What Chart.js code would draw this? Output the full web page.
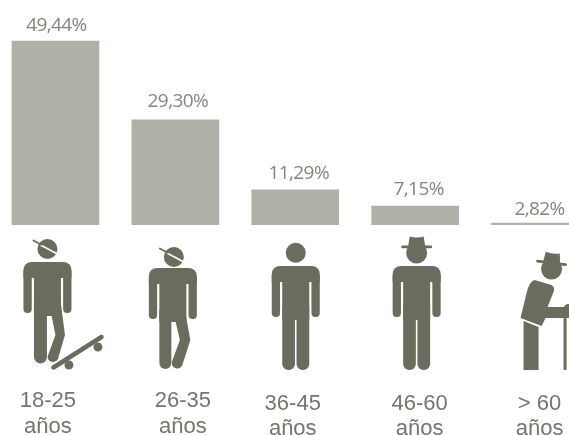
<!DOCTYPE html>
<html>
<head>
<meta charset="utf-8">
<title>Edad</title>
<script src="https://cdn.jsdelivr.net/npm/chart.js@4"></script>
<style>
  html, body { margin: 0; padding: 0; background: #fff; overflow: hidden; width: 569px; height: 435px; }
  #wrap { position: absolute; left: -5px; top: 0; width: 600px; height: 435px; }
</style>
</head>
<body>
<div id="wrap"><canvas id="bar-chart" width="600" height="435"></canvas></div>
<script>
// data
const ageRanges = ['18-25', '26-35', '36-45', '46-60', '> 60'];
const shares = [49.44, 29.30, 11.29, 7.15, 2.82];
const shareLabels = ['49,44%', '29,30%', '11,29%', '7,15%', '2,82%'];
const yearsWord = 'años';

const barColor = '#b0b0a9';
const iconColor = '#6b6b5e';
const shareColor = '#85857c';
const ageColor = '#75756c';

// small hand placement, the original labels do not sit on the bar centres
const shareShiftX = [1, 2.5, 3.5, 3.5, 4.5];
const shareBaseline = [31, 107, 179, 195, 215];
const ageShiftX = [-7.5, 7.5, -2.5, 4.5, 4.5];
const ageBaseline = [[407, 433], [407, 433], [410, 435], [410, 435], [410, 435]];

function standingBody(ctx, cx, top) {
    // shoulders and torso
    ctx.beginPath();
    ctx.roundRect(cx - 24, top, 48, 16, [8, 8, 0, 0]);
    ctx.fill();
    ctx.fillRect(cx - 13.5, top, 27, 54);
    // arms
    ctx.beginPath();
    ctx.roundRect(cx - 24, top + 6, 8.3, 45, 4);
    ctx.roundRect(cx + 15.7, top + 6, 8.3, 45, 4);
    ctx.fill();
}

function straightLegs(ctx, cx, top, bottom) {
    ctx.beginPath();
    ctx.roundRect(cx - 13.5, top + 40, 12.7, bottom - top - 40, [0, 0, 6, 6]);
    ctx.roundRect(cx + 0.8, top + 40, 12.7, bottom - top - 40, [0, 0, 6, 6]);
    ctx.fill();
}

function capHead(ctx, hx, hy) {
    ctx.beginPath();
    ctx.arc(hx, hy, 10, 0, Math.PI * 2);
    ctx.fill();
    ctx.strokeStyle = '#fff';
    ctx.lineWidth = 1.6;
    ctx.beginPath();
    ctx.moveTo(hx - 7, hy - 4);
    ctx.lineTo(hx + 11, hy + 5.5);
    ctx.stroke();
    ctx.strokeStyle = iconColor;
    ctx.lineCap = 'round';
    ctx.lineWidth = 1.8;
    ctx.beginPath();
    ctx.moveTo(hx - 14, hy - 8.5);
    ctx.lineTo(hx - 6, hy - 4.3);
    ctx.stroke();
}

function hatHead(ctx, hx, hy, tilt) {
    ctx.beginPath();
    ctx.arc(hx, hy, 10.5, 0, Math.PI * 2);
    ctx.fill();
    ctx.save();
    ctx.translate(hx, hy - 6);
    ctx.rotate(tilt);
    ctx.fillStyle = iconColor;
    ctx.beginPath();
    ctx.roundRect(-15.5, -1.5, 31, 2.8, 1.4);
    ctx.fill();
    ctx.beginPath();
    ctx.moveTo(-8.5, -1);
    ctx.lineTo(-7, -10.5);
    ctx.quadraticCurveTo(0, -8.5, 7, -10.5);
    ctx.lineTo(8.5, -1);
    ctx.closePath();
    ctx.fill();
    ctx.restore();
}

const iconDrawers = [
    function (ctx, cx) { // skater
        capHead(ctx, cx, 249);
        standingBody(ctx, cx, 262);
        ctx.fill(new Path2D('M' + (cx - 13.5) + ' 300 h13 v57 a6.2 6.2 0 0 1 -13 0 z'));
        ctx.fill(new Path2D('M' + (cx + 1) + ' 300 h12 L' + (cx + 17.5) + ' 335 L' + (cx + 10.5) + ' 359 a5.4 5.4 0 0 1 -10.2 -3 L' + (cx + 8) + ' 335 z'));
        // board
        ctx.lineCap = 'round';
        ctx.lineWidth = 7.5;
        ctx.strokeStyle = '#fff';
        ctx.beginPath();
        ctx.moveTo(cx + 6, 367.5);
        ctx.lineTo(cx + 54, 337);
        ctx.stroke();
        ctx.lineWidth = 4.5;
        ctx.strokeStyle = iconColor;
        ctx.stroke();
        ctx.beginPath();
        ctx.arc(cx + 21.5, 365, 4.5, 0, Math.PI * 2);
        ctx.arc(cx + 50.5, 347, 4.5, 0, Math.PI * 2);
        ctx.fill();
    },
    function (ctx, cx) { // cap, one leg bent
        capHead(ctx, cx - 1, 257);
        standingBody(ctx, cx - 2, 268);
        ctx.fill(new Path2D('M' + (cx - 15.5) + ' 310 h12 v53 a6 6 0 0 1 -12 0 z'));
        ctx.fill(new Path2D('M' + (cx - 2) + ' 310 h12 L' + (cx + 15.5) + ' 340 L' + (cx + 7.5) + ' 365 a5.5 5.5 0 0 1 -10.5 -3 L' + (cx + 5) + ' 340 z'));
    },
    function (ctx, cx) { // plain
        ctx.beginPath();
        ctx.arc(cx, 252.7, 10, 0, Math.PI * 2);
        ctx.fill();
        standingBody(ctx, cx, 266);
        straightLegs(ctx, cx, 266, 370);
    },
    function (ctx, cx) { // hat
        hatHead(ctx, cx, 253, 0);
        standingBody(ctx, cx, 266);
        straightLegs(ctx, cx, 266, 370);
    },
    function (ctx, cx) { // old man with a stick
        hatHead(ctx, cx + 12, 269, 0.12);
        ctx.fill(new Path2D('M' + (cx - 5) + ' 280 L' + (cx + 12) + ' 285 Q' + (cx + 16) + ' 288 ' + (cx + 14) + ' 292 L' + (cx + 8) + ' 307 H' + (cx + 30) + ' V318 H' + (cx + 6) + ' L' + (cx + 2) + ' 326 L' + (cx - 19) + ' 318 L' + (cx - 13) + ' 293 Q' + (cx - 10) + ' 281 ' + (cx - 5) + ' 280 z'));
        ctx.fill(new Path2D('M' + (cx - 16) + ' 321 L' + (cx - 1) + ' 327 V370 H' + (cx - 16) + ' z'));
        ctx.fillRect(cx + 24, 308, 3, 62);
        ctx.strokeStyle = iconColor;
        ctx.lineWidth = 3;
        ctx.beginPath();
        ctx.arc(cx + 29, 309, 3.5, Math.PI, Math.PI * 1.6);
        ctx.stroke();
    }
];
// where each figure stands, measured from its bar centre
const iconShiftX = [-8, -0.5, 0.5, 1.5, 4.5];

const figuresAndText = {
    id: 'figuresAndText',
    afterDatasetsDraw(chart) {
        const { ctx, scales: { x } } = chart;
        ctx.save();
        ctx.textAlign = 'center';
        ageRanges.forEach(function (age, i) {
            const cx = x.getPixelForValue(i);

            ctx.fillStyle = shareColor;
            ctx.font = '19px "Open Sans"';
            ctx.letterSpacing = '-0.6px';
            ctx.fillText(shareLabels[i], cx + shareShiftX[i], shareBaseline[i]);
            ctx.letterSpacing = '0px';

            ctx.fillStyle = ageColor;
            ctx.font = '22px "Liberation Sans"';
            ctx.fillText(age, cx + ageShiftX[i], ageBaseline[i][0]);
            ctx.fillText(yearsWord, cx + ageShiftX[i], ageBaseline[i][1]);

            ctx.save();
            ctx.fillStyle = iconColor;
            iconDrawers[i](ctx, cx + iconShiftX[i]);
            ctx.restore();
        });
        ctx.restore();
    }
};

new Chart(document.getElementById('bar-chart').getContext('2d'), {
    type: 'bar',
    data: {
        labels: ageRanges,
        datasets: [{
            data: shares,
            backgroundColor: barColor,
            barThickness: 87,
            borderWidth: 0
        }]
    },
    options: {
        responsive: false,
        animation: false,
        layout: { padding: { left: 0.5, right: -0.5, top: 0, bottom: 210 } },
        plugins: { legend: { display: false }, tooltip: { enabled: false } },
        scales: {
            x: { display: false },
            y: { display: false, min: 2.3, max: 60 }
        }
    },
    plugins: [figuresAndText]
});
</script>
</body>
</html>
